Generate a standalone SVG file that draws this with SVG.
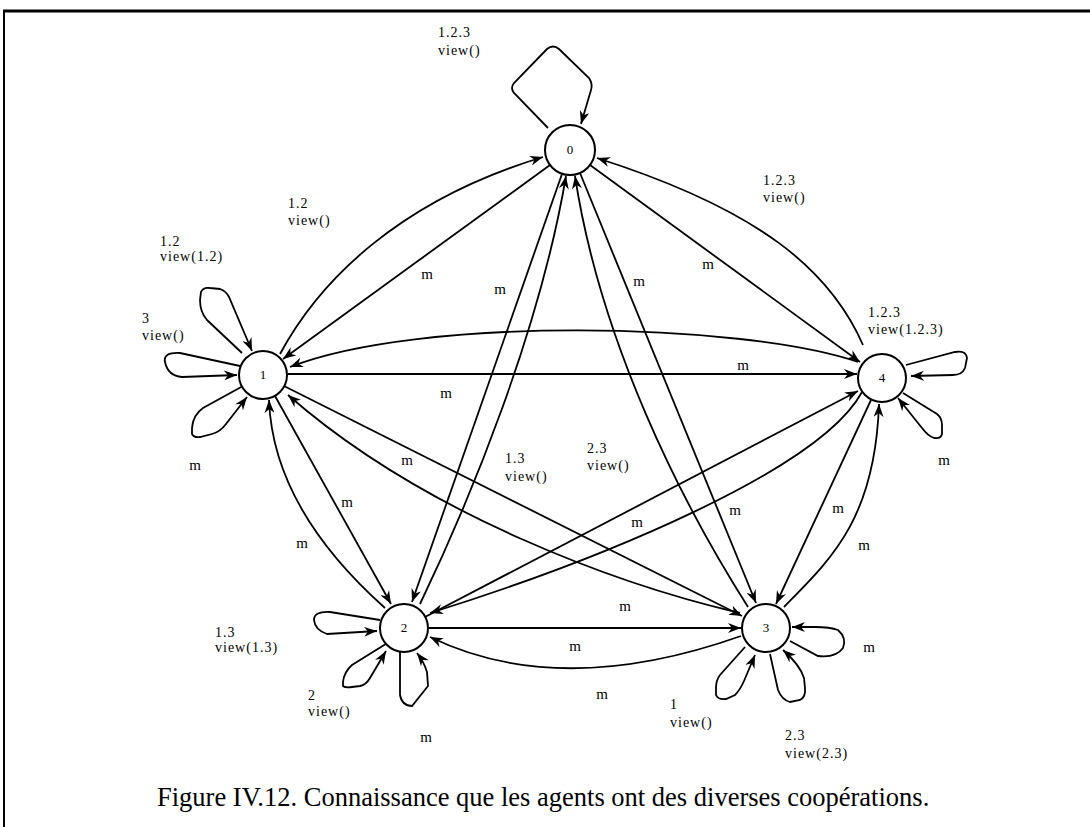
<svg xmlns="http://www.w3.org/2000/svg" width="1090" height="827" viewBox="0 0 1090 827">
<style>
.e{fill:none;stroke:#000;stroke-width:1.8}
.a{marker-end:url(#ah)}
.nd circle{fill:#fff;stroke:#000;stroke-width:2}
.nd text{font-family:"Liberation Serif","Times New Roman",serif;font-size:13px;text-anchor:middle}
.l{font-family:"Liberation Serif","Times New Roman",serif;font-size:14px;letter-spacing:1px;fill:#000}
.m{font-family:"Liberation Serif","Times New Roman",serif;font-size:15px;text-anchor:middle;fill:#000}
.cap{font-family:"Liberation Serif","Times New Roman",serif;font-size:26.5px;fill:#000}
</style>
<defs>
<marker id="ah" markerWidth="14" markerHeight="10" refX="13" refY="5" orient="auto" markerUnits="userSpaceOnUse"><path d="M0,0 L13,5 L0,10 L4,5 z" fill="#000"/></marker>
</defs>
<rect width="1090" height="827" fill="#fff"/>
<g id="frame" stroke="#000" fill="none">
<line x1="3" y1="11" x2="1090" y2="11" stroke-width="3"/>
<line x1="4" y1="10" x2="4" y2="827" stroke-width="2"/>
</g>
<g id="connectors">
<path class="e a" d="M280,354 C320,280 400,200 543,157"/>
<path class="e a" d="M550,165 L283,359"/>
<path class="e a" d="M863,345 C830,270 760,210 597,158"/>
<path class="e a" d="M590,165 L860,362"/>
<path class="e a" d="M858,362 C740,322 420,316 290,367"/>
<path class="e a" d="M288,374 L857,374"/>
<path class="e a" d="M562,174 L412,602"/>
<path class="e a" d="M420,604 C470,500 540,330 566,176"/>
<path class="e a" d="M580,173 L756,603"/>
<path class="e a" d="M748,607 C680,500 600,340 575,176"/>
<path class="e a" d="M275,396 L391,604"/>
<path class="e a" d="M385,608 C320,550 272,480 269,400"/>
<path class="e a" d="M284,386 L742,616"/>
<path class="e a" d="M740,613 C620,585 425,515 288,395"/>
<path class="e a" d="M429,628 L741,628"/>
<path class="e a" d="M741,636 Q560,700 430,637"/>
<path class="e a" d="M425,617 L858,391"/>
<path class="e a" d="M862,392 C820,470 600,560 430,613"/>
<path class="e a" d="M871,400 L776,604"/>
<path class="e a" d="M784,607 C830,560 875,520 879,404"/>
<path class="e a" d="M548,128 L514,93 Q510,88 514,83 L547,49 Q553,44 559,49 L589,78 Q593,84 591,90 L581,124"/>
<path class="e a" d="M242,353 L207,320 Q200,312 200,300 L201,292 Q203,287 210,288 L220,289 Q226,291 229,297 L252,351"/>
<path class="e a" d="M240,366 L180,353 Q163,352 165,362 Q168,376 182,377 L237,375"/>
<path class="e a" d="M243,386 L203,408 Q193,415 192,428 L192,434 Q194,438 200,437 L212,434 Q220,432 226,424 L247,397"/>
<path class="e a" d="M906,365 L955,352 Q966,350 967,358 L965,368 Q962,375 953,375 L911,376"/>
<path class="e a" d="M903,393 L937,414 Q942,418 942,425 L942,434 Q941,439 934,438 Q928,436 922,428 L898,398"/>
<path class="e a" d="M380,620 L330,612 Q314,611 314,620 Q315,630 327,634 L377,631"/>
<path class="e a" d="M389,642 L352,665 Q344,672 343,682 L343,686 Q345,688 352,687 L360,686 Q366,685 370,678 L386,651"/>
<path class="e a" d="M400,652 L400,695 Q402,706 412,706 L428,686 L427,672 Q424,662 417,653"/>
<path class="e a" d="M790,641 L818,656 Q836,658 843,648 Q847,638 838,630 Q830,627 815,627 L792,627"/>
<path class="e a" d="M745,647 L720,675 Q716,680 716,688 L716,695 Q718,700 726,699 L735,695 Q740,690 744,681 L755,655"/>
<path class="e a" d="M770,654 L778,690 Q782,700 790,702 L800,700 Q806,697 805,688 L804,678 Q800,665 783,650"/>
</g>
<g id="node0" class="nd"><circle cx="570" cy="150" r="25"/><text x="570" y="154">0</text></g>
<g id="node1" class="nd"><circle cx="263" cy="375" r="24"/><text x="263" y="379">1</text></g>
<g id="node2" class="nd"><circle cx="404" cy="628" r="24"/><text x="404" y="632">2</text></g>
<g id="node3" class="nd"><circle cx="766" cy="628" r="24"/><text x="766" y="632">3</text></g>
<g id="node4" class="nd"><circle cx="882" cy="378" r="24"/><text x="882" y="382">4</text></g>
<g id="labels">
<text class="l" x="438" y="37">1.2.3</text><text class="l" x="438" y="55">view()</text>
<text class="l" x="288" y="208">1.2</text><text class="l" x="288" y="225">view()</text>
<text class="l" x="160" y="246">1.2</text><text class="l" x="160" y="261">view(1.2)</text>
<text class="l" x="142" y="323">3</text><text class="l" x="142" y="340">view()</text>
<text class="l" x="763" y="185">1.2.3</text><text class="l" x="763" y="202">view()</text>
<text class="l" x="868" y="317">1.2.3</text><text class="l" x="868" y="334">view(1.2.3)</text>
<text class="l" x="505" y="463">1.3</text><text class="l" x="505" y="481">view()</text>
<text class="l" x="587" y="453">2.3</text><text class="l" x="587" y="470">view()</text>
<text class="l" x="215" y="637">1.3</text><text class="l" x="215" y="652">view(1.3)</text>
<text class="l" x="308" y="700">2</text><text class="l" x="308" y="716">view()</text>
<text class="l" x="670" y="709">1</text><text class="l" x="670" y="727">view()</text>
<text class="l" x="785" y="740">2.3</text><text class="l" x="785" y="758">view(2.3)</text>
<text class="m" x="195" y="470">m</text>
<text class="m" x="944" y="465">m</text>
<text class="m" x="426" y="742">m</text>
<text class="m" x="869" y="652">m</text>
<text class="m" x="427" y="279">m</text>
<text class="m" x="500" y="294">m</text>
<text class="m" x="639" y="286">m</text>
<text class="m" x="708" y="269">m</text>
<text class="m" x="743" y="370">m</text>
<text class="m" x="446" y="398">m</text>
<text class="m" x="407" y="465">m</text>
<text class="m" x="347" y="507">m</text>
<text class="m" x="302" y="548">m</text>
<text class="m" x="637" y="527">m</text>
<text class="m" x="735" y="515">m</text>
<text class="m" x="838" y="513">m</text>
<text class="m" x="864" y="550">m</text>
<text class="m" x="625" y="611">m</text>
<text class="m" x="575" y="651">m</text>
<text class="m" x="602" y="699">m</text>
<text class="cap" x="157" y="806">Figure IV.12. Connaissance que les agents ont des diverses coopérations.</text>
</g>
</svg>
